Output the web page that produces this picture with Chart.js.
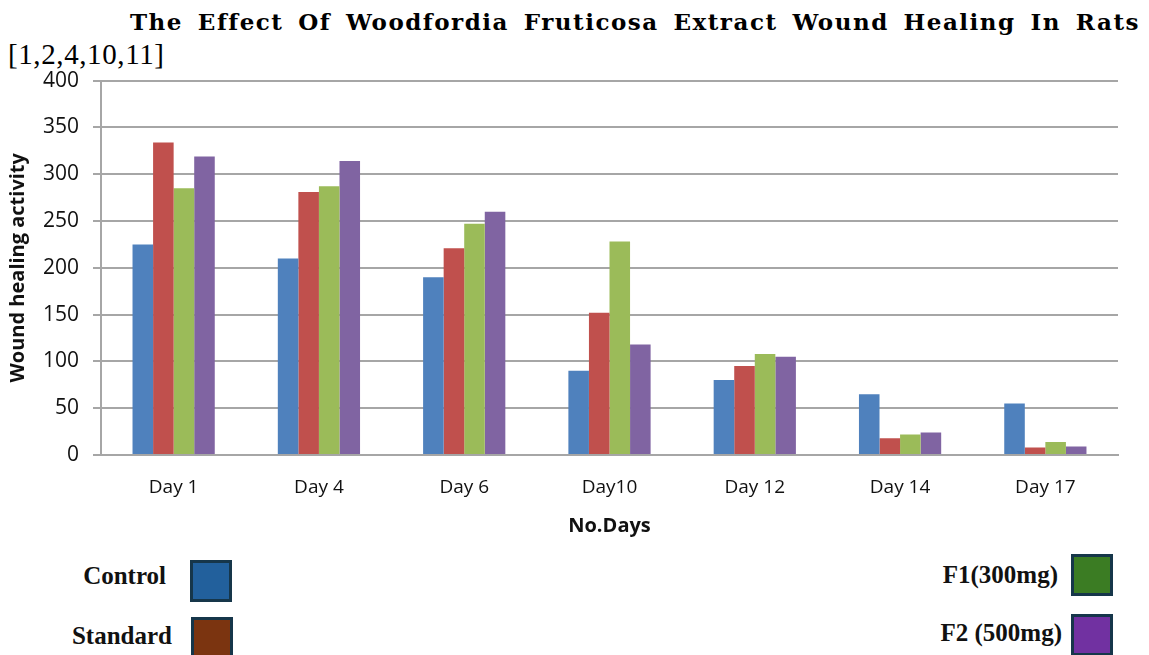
<!DOCTYPE html>
<html>
<head>
<meta charset="utf-8">
<script src="https://cdn.jsdelivr.net/npm/chart.js@4/dist/chart.umd.min.js"></script>
<style>
    body { margin: 0; background: #fff; width: 1149px; height: 655px; overflow: hidden; position: relative; }
    #title { position: absolute; left: 130px; top: 8px; width: 1010px; font: bold 23px "DejaVu Serif", serif; letter-spacing: 1.5px; text-align: justify; text-align-last: justify; color: #000; white-space: nowrap; }
    #refs { position: absolute; left: 8px; top: 38px; font: 29px "Liberation Serif", serif; letter-spacing: 0.6px; color: #000; }
    #wrap { position: absolute; left: 0; top: 54px; width: 1149px; height: 497px; }
    .lbl { position: absolute; font: bold 25px "Liberation Serif", serif; color: #111; text-align: right; }
    .sw { position: absolute; width: 36px; height: 36px; border: 3px solid #16364a; }
</style>
</head>
<body>
<div id="title">The Effect Of Woodfordia Fruticosa Extract Wound Healing In Rats</div>
<div id="refs">[1,2,4,10,11]</div>
<div id="wrap"><canvas id="barChart"></canvas></div>

<div class="lbl" style="right:983px; top:562px;">Control</div>
<div class="sw" style="left:190px; top:560px; background:#22609c;"></div>
<div class="lbl" style="right:977px; top:622px;">Standard</div>
<div class="sw" style="left:191px; top:617px; background:#7b3410;"></div>
<div class="lbl" style="right:91px; top:561px;">F1(300mg)</div>
<div class="sw" style="left:1071px; top:554px; background:#3b7c23;"></div>
<div class="lbl" style="right:87px; top:619px;">F2 (500mg)</div>
<div class="sw" style="left:1071px; top:614px; background:#7131a1;"></div>

<script>
const days = ["Day 1", "Day 4", "Day 6", "Day10", "Day 12", "Day 14", "Day 17"];
const control = [225, 210, 190, 90, 80, 65, 55];
const standard = [334, 281, 221, 152, 95, 18, 8];
const f1 = [285, 287, 247, 228, 108, 22, 14];
const f2 = [319, 314, 260, 118, 105, 24, 9];
const seriesNames = ["Control", "Standard", "F1(300mg)", "F2 (500mg)"];
const barColors = ['#4f81bd', '#c0504d', '#9bbb59', '#8064a2'];

const yTickFont = {family: "'Open Sans', sans-serif", size: 21};
const xTickFont = {family: "'Open Sans', sans-serif", size: 19};
const titleFont = {family: "'Open Sans', sans-serif", size: 20, weight: 'bold'};

const ctx = document.getElementById("barChart").getContext("2d");
new Chart(ctx, {
    type: 'bar',
    data: {
        labels: days,
        datasets: [control, standard, f1, f2].map((vals, i) => ({
            label: seriesNames[i],
            data: vals,
            backgroundColor: barColors[i],
            borderWidth: 0,
            categoryPercentage: 0.566,
            barPercentage: 1
        }))
    },
    options: {
        responsive: true,
        maintainAspectRatio: false,
        animation: false,
        layout: {padding: {top: 10, right: 31, left: 0, bottom: 0}},
        plugins: {
            legend: {display: false},
            tooltip: {enabled: false}
        },
        scales: {
            x: {
                grid: {display: false, drawTicks: false},
                border: {display: true, color: '#a6a6a6', width: 2},
                ticks: {font: xTickFont, color: '#111', padding: 21, maxRotation: 0},
                title: {display: true, text: 'No.Days', font: titleFont, color: '#111', padding: {top: 0, bottom: 13}},
                afterFit: scale => { scale.height = 96; }
            },
            y: {
                min: 0,
                max: 400,
                ticks: {stepSize: 50, font: yTickFont, color: '#111', padding: 14},
                grid: {color: '#a6a6a6', lineWidth: 2, tickLength: 8},
                border: {display: true, color: '#a6a6a6', width: 2},
                title: {display: true, text: 'Wound healing activity', font: titleFont, color: '#111', padding: {top: 6, bottom: 0}},
                afterFit: scale => { scale.width = 101; }
            }
        }
    }
});
</script>
</body>
</html>
